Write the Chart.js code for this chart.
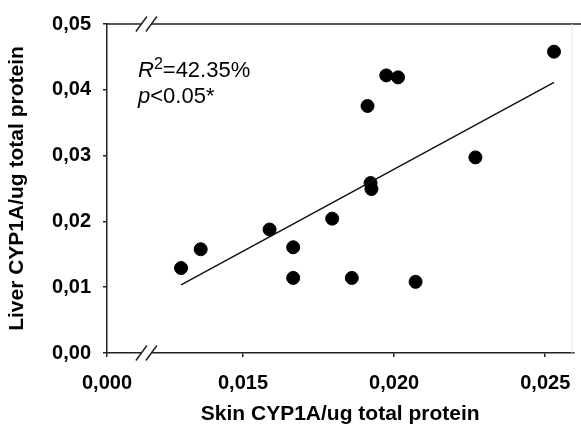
<!DOCTYPE html>
<html>
<head>
<meta charset="utf-8">
<script src="https://cdn.jsdelivr.net/npm/chart.js@4.4.1/dist/chart.umd.min.js"></script>
<style>
    html, body { margin: 0; padding: 0; background: #fff; }
    #wrap { width: 581px; height: 428px; }
</style>
</head>
<body>
<div id="wrap"><canvas id="cyp1achart"></canvas></div>
<script>
// Data block
const skinCyp1a = [0.01295, 0.01360, 0.01588, 0.01666, 0.01666, 0.01795, 0.01860,
                   0.01912, 0.01922, 0.01925, 0.01974, 0.02013, 0.02071, 0.02269, 0.02529];
const liverCyp1a = [0.01291, 0.01577, 0.01877, 0.01607, 0.01141, 0.02042, 0.01141,
                    0.03754, 0.02583, 0.02492, 0.04219, 0.04189, 0.01081, 0.02973, 0.04580];
// Regression line end points
const fitX = [0.01295, 0.02529];
const fitY = [0.01036, 0.04114];
// Axis ticks (first x tick stands for 0 after the axis break)
const xTickValues = [0.0105, 0.015, 0.020, 0.025];
const xTickLabels = ['0,000', '0,015', '0,020', '0,025'];
const yTickValues = [0, 0.01, 0.02, 0.03, 0.04, 0.05];
const yTickLabels = ['0,00', '0,01', '0,02', '0,03', '0,04', '0,05'];
const xBreakAt = 0.01182;

const axisColor = '#222';
const fontFamily = '"Liberation Sans", Arial, sans-serif';

// Frame, axis break and stats text
const frameAndBreak = {
    id: 'frameAndBreak',
    afterDraw(chart) {
        const ctx = chart.ctx;
        const area = chart.chartArea;
        const bx = chart.scales.x.getPixelForValue(xBreakAt);
        ctx.save();
        // top frame line
        ctx.strokeStyle = axisColor;
        ctx.lineWidth = 1.5;
        ctx.beginPath();
        ctx.moveTo(area.left, area.top);
        ctx.lineTo(chart.width, area.top);
        ctx.stroke();
        // faint right edge
        ctx.strokeStyle = '#e6e6e6';
        ctx.lineWidth = 1;
        ctx.beginPath();
        ctx.moveTo(area.right - 1.5, area.top);
        ctx.lineTo(area.right - 1.5, area.bottom);
        ctx.stroke();
        // break marks
        [area.top, area.bottom].forEach(function(y) {
            ctx.fillStyle = '#fff';
            ctx.beginPath();
            ctx.moveTo(bx - 11, y + 7.5);
            ctx.lineTo(bx, y - 7.5);
            ctx.lineTo(bx + 10, y - 7.5);
            ctx.lineTo(bx - 1, y + 7.5);
            ctx.closePath();
            ctx.fill();
            ctx.strokeStyle = axisColor;
            ctx.lineWidth = 1.5;
            ctx.beginPath();
            ctx.moveTo(bx - 11, y + 7.5);
            ctx.lineTo(bx, y - 7.5);
            ctx.moveTo(bx - 1, y + 7.5);
            ctx.lineTo(bx + 10, y - 7.5);
            ctx.stroke();
        });
        // statistics text
        ctx.fillStyle = '#000';
        ctx.textBaseline = 'alphabetic';
        let x = area.left + 31;
        ctx.font = 'italic 22px ' + fontFamily;
        ctx.fillText('R', x, 77);
        x += ctx.measureText('R').width;
        ctx.font = '16px ' + fontFamily;
        ctx.fillText('2', x, 69);
        x += ctx.measureText('2').width;
        ctx.font = '22px ' + fontFamily;
        ctx.fillText('=42.35%', x, 77);
        x = area.left + 31;
        ctx.font = 'italic 22px ' + fontFamily;
        ctx.fillText('p', x, 103);
        x += ctx.measureText('p').width;
        ctx.font = '22px ' + fontFamily;
        ctx.fillText('<0.05*', x, 103);
        ctx.restore();
    }
};

// Config block
const cyp1aConfig = {
    type: 'scatter',
    data: {
        datasets: [
            {
                label: 'Regression',
                type: 'line',
                data: fitX.map(function(v, i) { return {x: v, y: fitY[i]}; }),
                borderColor: '#111',
                borderWidth: 1.5,
                pointRadius: 0,
                fill: false,
            },
            {
                label: 'Samples',
                data: skinCyp1a.map(function(v, i) { return {x: v, y: liverCyp1a[i]}; }),
                backgroundColor: '#000',
                borderColor: '#000',
                pointRadius: 6.5,
                pointHoverRadius: 6.5,
            }
        ]  // End datasets
    },  // End data
    options: {
        responsive: false,
        animation: false,
        maintainAspectRatio: false,
        layout: {
            padding: {left: 0, top: 20, right: 0, bottom: 0}
        },
        plugins: {
            legend: {display: false},
            tooltip: {enabled: false},
        },  // End Plugins
        scales: {
            x: {
                type: 'linear',
                min: 0.0105,
                max: 0.025935,
                afterFit: function(scale) {
                    scale.height = 75;
                    scale.paddingRight = 0;
                    scale.paddingLeft = 0;
                },
                afterBuildTicks: function(scale) {
                    scale.ticks = xTickValues.map(function(v) { return {value: v}; });
                },
                ticks: {
                    autoSkip: false,
                    maxRotation: 0,
                    padding: 14,
                    color: '#000',
                    font: {family: fontFamily, size: 20, weight: 'bold'},
                    callback: function(value) {
                        const i = xTickValues.indexOf(value);
                        return i >= 0 ? xTickLabels[i] : '';
                    }
                },
                grid: {drawOnChartArea: false, drawTicks: true, tickLength: 4, color: axisColor, lineWidth: 1.5},
                border: {display: true, color: axisColor, width: 1.5},
                title: {
                    display: true,
                    text: 'Skin CYP1A/ug total protein',
                    color: '#000',
                    font: {family: fontFamily, size: 21, weight: 'bold'},
                    padding: {top: 0, bottom: 1},
                },
            },  // End x axis
            y: {
                min: 0,
                max: 0.05,
                afterFit: function(scale) { scale.width = 107; },
                afterBuildTicks: function(scale) {
                    scale.ticks = yTickValues.map(function(v) { return {value: v}; });
                },
                ticks: {
                    padding: 12,
                    color: '#000',
                    font: {family: fontFamily, size: 20, weight: 'bold'},
                    callback: function(value) {
                        const i = yTickValues.indexOf(value);
                        return i >= 0 ? yTickLabels[i] : '';
                    }
                },
                grid: {drawOnChartArea: false, drawTicks: true, tickLength: 4, color: axisColor, lineWidth: 1.5},
                border: {display: true, color: axisColor, width: 1.5},
                title: {
                    display: true,
                    text: 'Liver CYP1A/ug total protein',
                    color: '#000',
                    font: {family: fontFamily, size: 21, weight: 'bold'},
                    padding: {top: 5, bottom: 0},
                }
            }  // End y axis
        }  // End scales
    },  // End options
    plugins: [frameAndBreak]
};  // End config

const canvas = document.getElementById('cyp1achart');
canvas.width = 581;
canvas.height = 428;
const cyp1aChart = new Chart(canvas, cyp1aConfig);
</script>
</body>
</html>
